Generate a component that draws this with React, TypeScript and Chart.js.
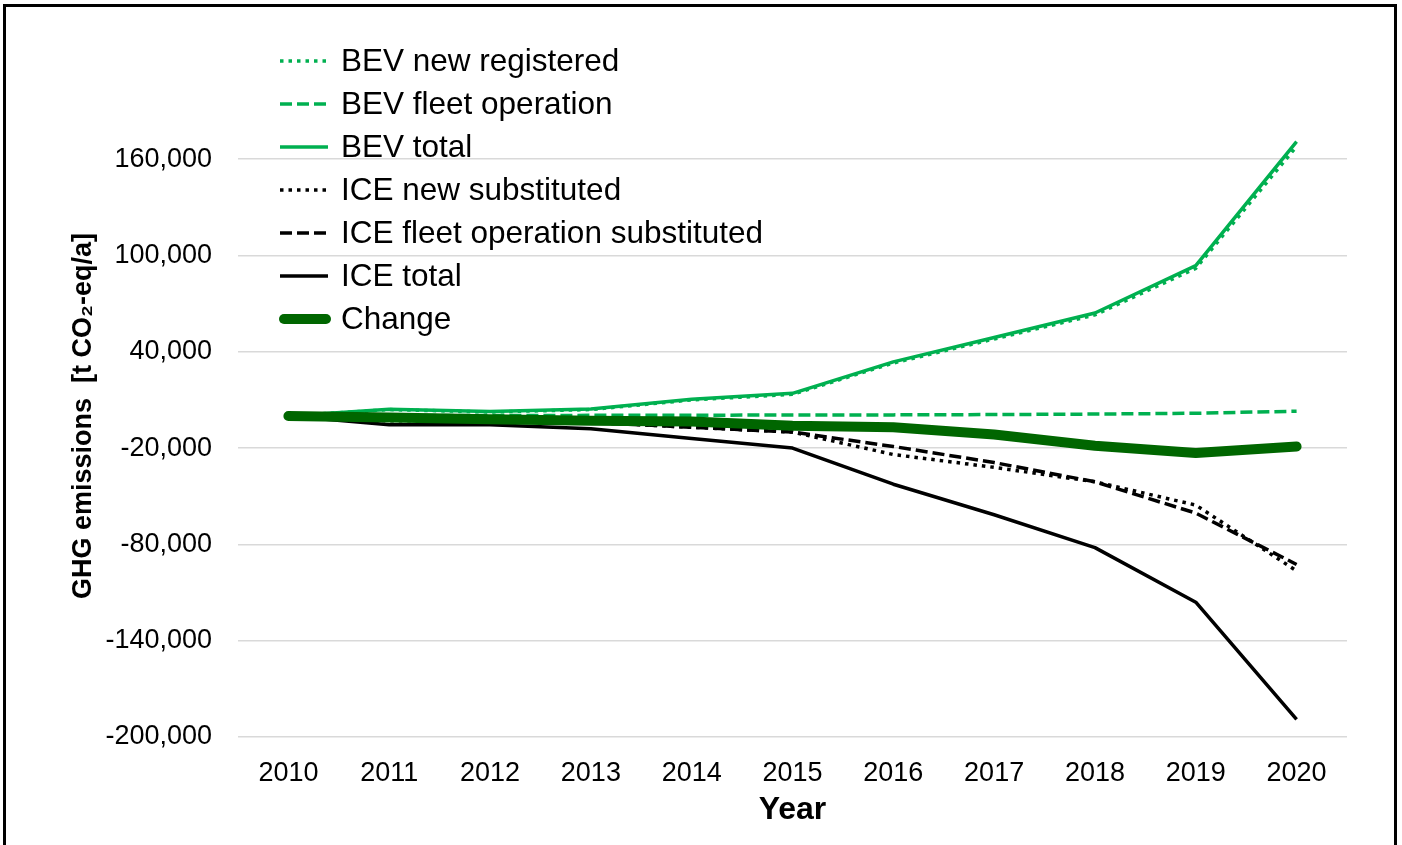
import React, { useEffect, useRef } from 'react';
import { Chart, registerables } from 'chart.js';

Chart.register(...registerables);

const years = ['2010', '2011', '2012', '2013', '2014', '2015', '2016', '2017', '2018', '2019', '2020'];

const bevNewRegistered = [0, 4000, 2500, 4000, 10000, 13500, 33000, 48000, 63000, 92000, 168000];
const bevFleetOperation = [0, 200, 300, 400, 500, 600, 700, 900, 1200, 1700, 3000];
const bevTotal = [0, 4200, 2800, 4400, 10500, 14100, 33700, 48900, 64200, 93700, 171000];
const iceNewSubstituted = [0, -3000, -3000, -4000, -7000, -10000, -24000, -32000, -41000, -55500, -96500];
const iceFleetOperation = [0, -2500, -2500, -4000, -7000, -10000, -19000, -29000, -41000, -60500, -92500];
const iceTotal = [0, -5500, -5500, -8000, -14000, -20000, -42500, -61500, -82000, -116000, -189000];
const change = [0, -1000, -2000, -3000, -3500, -6000, -7000, -11500, -18500, -23000, -19000];

const yTickValues = [-200000, -140000, -80000, -20000, 40000, 100000, 160000];
const yMin = -200000;
const yMax = 200000;

const GREEN = '#00B050';
const DARK_GREEN = '#006600';
const BLACK = '#000000';
const FONT = "'Liberation Sans', Arial, sans-serif";

type Series = {
  label: string;
  data: number[];
  color: string;
  dash: number[];
  width: number;
  order: number;
  cap: CanvasLineCap;
};

export default function App() {
  const ref = useRef<HTMLCanvasElement>(null);

  useEffect(() => {
    const canvas = ref.current;
    if (!canvas) return;

    const series: Series[] = [
      { label: 'BEV new registered', data: bevNewRegistered, color: GREEN, dash: [3.5, 5], width: 3.5, order: 2, cap: 'butt' },
      { label: 'BEV fleet operation', data: bevFleetOperation, color: GREEN, dash: [12, 5], width: 3.5, order: 3, cap: 'butt' },
      { label: 'BEV total', data: bevTotal, color: GREEN, dash: [], width: 3.5, order: 1, cap: 'butt' },
      { label: 'ICE new substituted', data: iceNewSubstituted, color: BLACK, dash: [3.5, 5], width: 3.5, order: 6, cap: 'butt' },
      { label: 'ICE fleet operation substituted', data: iceFleetOperation, color: BLACK, dash: [12, 5], width: 3.5, order: 5, cap: 'butt' },
      { label: 'ICE total', data: iceTotal, color: BLACK, dash: [], width: 3.5, order: 4, cap: 'butt' },
      { label: 'Change', data: change, color: DARK_GREEN, dash: [], width: 10, order: 0, cap: 'round' },
    ];

    const insideLegend = {
      id: 'insideLegend',
      afterDraw(chart: Chart) {
        const ctx = chart.ctx;
        ctx.save();
        series.forEach((s, i) => {
          const y = 61 + 43 * i;
          ctx.beginPath();
          ctx.strokeStyle = s.color;
          ctx.lineWidth = s.width;
          ctx.lineCap = s.cap;
          ctx.setLineDash(s.dash);
          if (s.cap === 'round') {
            ctx.moveTo(284, y);
            ctx.lineTo(326, y);
          } else {
            ctx.moveTo(280, y);
            ctx.lineTo(328, y);
          }
          ctx.stroke();
          ctx.setLineDash([]);
          ctx.fillStyle = '#000';
          ctx.font = `31.5px ${FONT}`;
          ctx.textAlign = 'left';
          ctx.textBaseline = 'middle';
          ctx.fillText(s.label, 341, y + 1);
        });
        ctx.restore();
      },
    };

    const chart = new Chart(canvas, {
      type: 'line',
      data: {
        labels: years,
        datasets: series.map((s) => ({
          label: s.label,
          data: s.data,
          borderColor: s.color,
          backgroundColor: s.color,
          borderDash: s.dash,
          borderWidth: s.width,
          borderCapStyle: s.cap,
          borderJoinStyle: 'round' as CanvasLineJoin,
          order: s.order,
          pointRadius: 0,
          pointHoverRadius: 0,
          fill: false,
          tension: 0,
        })),
      },
      options: {
        responsive: false,
        animation: false,
        devicePixelRatio: 1,
        layout: { padding: { top: 95, right: 55, bottom: 0, left: 0 } },
        font: { family: FONT },
        plugins: {
          legend: { display: false },
          tooltip: { enabled: false },
        },
        scales: {
          x: {
            type: 'category',
            offset: true,
            grid: { display: false },
            border: { display: false },
            ticks: {
              color: '#000',
              font: { family: FONT, size: 27 },
              padding: 12,
              maxRotation: 0,
              autoSkip: false,
            },
            title: {
              display: true,
              text: 'Year',
              color: '#000',
              font: { family: FONT, size: 32, weight: 'bold' },
              padding: { top: 0, bottom: 16 },
            },
            afterFit: (s: any) => {
              s.height = 108;
            },
          },
          y: {
            type: 'linear',
            min: yMin,
            max: yMax,
            grid: { color: '#d9d9d9', lineWidth: 1.5, drawTicks: false },
            border: { display: false },
            afterBuildTicks: (s: any) => {
              s.ticks = yTickValues.map((v) => ({ value: v }));
            },
            ticks: {
              color: '#000',
              font: { family: FONT, size: 27 },
              padding: 26,
              callback: (v: any) => Number(v).toLocaleString('en-US'),
            },
            title: {
              display: true,
              text: 'GHG emissions  [t CO\u2082-eq/a]',
              color: '#000',
              font: { family: FONT, size: 27, weight: 'bold' },
              padding: { top: 67, bottom: 0 },
            },
            afterFit: (s: any) => {
              s.width = 238;
            },
          },
        },
      },
      plugins: [insideLegend],
    });

    return () => chart.destroy();
  }, []);

  return (
    <div
      style={{
        position: 'fixed',
        left: 0,
        top: 0,
        width: 1402,
        height: 845,
        overflow: 'hidden',
        background: '#fff',
      }}
    >
      <canvas ref={ref} width={1402} height={845} style={{ display: 'block', width: 1402, height: 845 }} />
      <div
        style={{
          position: 'absolute',
          left: 3,
          top: 4,
          width: 1394,
          height: 900,
          border: '3px solid #000',
          boxSizing: 'border-box',
          pointerEvents: 'none',
        }}
      />
    </div>
  );
}
